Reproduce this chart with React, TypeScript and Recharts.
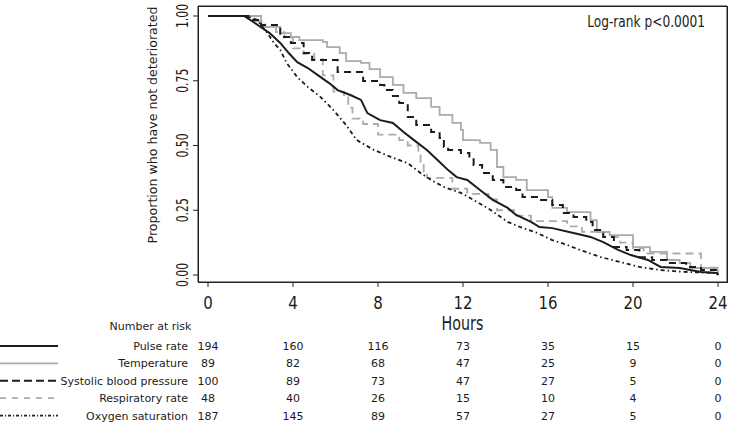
import { LineChart, Line, XAxis, YAxis, ReferenceLine } from 'recharts';

// Kaplan-Meier estimates: [hours, proportion not deteriorated]
const pulseRate = [
  [0, 1], [1.7, 1], [2.2, 0.973], [2.9, 0.934], [3.4, 0.896], [3.8, 0.857], [4.2, 0.822],
  [4.7, 0.799], [5.3, 0.764], [5.7, 0.741], [6.1, 0.714], [6.7, 0.695], [7.2, 0.676],
  [7.5, 0.625], [8.1, 0.598], [8.7, 0.587], [9.2, 0.552], [9.8, 0.514], [10.3, 0.483],
  [10.8, 0.444], [11.3, 0.405], [11.7, 0.378], [12.2, 0.367], [12.8, 0.328], [13.4, 0.29],
  [14.1, 0.259], [14.5, 0.232], [15.2, 0.205], [15.6, 0.185], [16.2, 0.181], [17.2, 0.162],
  [18, 0.147], [18.6, 0.127], [19.3, 0.097], [19.9, 0.077], [20.7, 0.058], [21.3, 0.031],
  [22.2, 0.027], [23.2, 0.012], [23.95, 0.008], [24, 0],
];
const temperature = [
  [0, 1], [2.5, 0.958], [3.4, 0.934], [3.9, 0.919], [4.3, 0.907], [5.4, 0.9], [5.6, 0.88],
  [6.2, 0.857], [6.5, 0.826], [7.2, 0.819], [7.6, 0.795], [8.1, 0.764], [8.7, 0.734],
  [9.2, 0.703], [9.8, 0.683], [10.5, 0.649], [10.9, 0.618], [11.5, 0.587], [11.9, 0.56],
  [12.0, 0.521], [12.8, 0.51], [13.3, 0.483], [13.6, 0.417], [13.9, 0.378], [14.5, 0.367],
  [15.0, 0.328], [16.0, 0.301], [16.2, 0.259], [16.9, 0.243], [18.0, 0.212], [18.3, 0.166],
  [18.9, 0.154], [20.0, 0.108], [20.8, 0.089], [21.6, 0.058], [22.2, 0.046], [22.7, 0.027],
  [23.95, 0.019], [24, 0],
];
const systolic = [
  [0, 1], [1.9, 0.985], [2.5, 0.965], [3.4, 0.919], [3.9, 0.896], [4.5, 0.857], [4.9, 0.83],
  [6.1, 0.784], [7.3, 0.749], [8.1, 0.734], [8.3, 0.714], [8.7, 0.691], [9.0, 0.664],
  [9.4, 0.61], [9.8, 0.579], [10.5, 0.552], [10.9, 0.529], [11.1, 0.494], [11.3, 0.483],
  [11.9, 0.471], [12.3, 0.452], [12.5, 0.425], [12.9, 0.394], [13.4, 0.367], [13.9, 0.34],
  [14.5, 0.328], [14.8, 0.301], [15.6, 0.29], [16.2, 0.27], [16.7, 0.239], [17.2, 0.224],
  [17.8, 0.205], [18.1, 0.174], [18.6, 0.147], [19.1, 0.108], [19.7, 0.097], [20.3, 0.069],
  [20.9, 0.058], [21.6, 0.046], [22.5, 0.031], [23.2, 0.019], [23.9, 0.012], [24, 0],
];
const respiratory = [
  [0, 1], [2.2, 0.979], [2.7, 0.958], [3.2, 0.938], [3.6, 0.917], [4.0, 0.875], [4.5, 0.854],
  [5.0, 0.833], [5.4, 0.771], [5.9, 0.708], [6.4, 0.688], [6.6, 0.646], [6.8, 0.604],
  [7.3, 0.583], [8.0, 0.542], [9.0, 0.521], [9.4, 0.5], [9.9, 0.479], [10.0, 0.438],
  [10.15, 0.396], [10.3, 0.375], [11.5, 0.333], [12.2, 0.313], [13.2, 0.292], [13.6, 0.25],
  [14.4, 0.229], [15.2, 0.208], [16.9, 0.188], [17.6, 0.167], [18.6, 0.146], [19.4, 0.125],
  [20.0, 0.104], [20.5, 0.083], [23.2, 0.028], [24, 0],
];
const oxygen = [
  [0, 1], [1.8, 1], [2.3, 0.985], [2.8, 0.934], [3.1, 0.896], [3.4, 0.869], [3.7, 0.819],
  [4.2, 0.764], [4.7, 0.726], [5.3, 0.687], [5.9, 0.637], [6.5, 0.579], [7.0, 0.521],
  [7.8, 0.483], [8.6, 0.456], [9.4, 0.432], [10.0, 0.394], [10.5, 0.367], [11.1, 0.34],
  [11.9, 0.317], [12.5, 0.29], [13.3, 0.251], [14.1, 0.205], [14.7, 0.185], [15.5, 0.162],
  [16.2, 0.135], [16.9, 0.116], [17.5, 0.097], [18.5, 0.069], [19.4, 0.05], [20.3, 0.031],
  [21.3, 0.019], [22.4, 0.012], [23.95, 0.008], [24, 0],
];

// number at risk table
const riskHours = [0, 4, 8, 12, 16, 20, 24];
const pulseRisk = [194, 160, 116, 73, 35, 15, 0];
const temperatureRisk = [89, 82, 68, 47, 25, 9, 0];
const systolicRisk = [100, 89, 73, 47, 27, 5, 0];
const respiratoryRisk = [48, 40, 26, 15, 10, 4, 0];
const oxygenRisk = [187, 145, 89, 57, 27, 5, 0];

const yTicks = [0, 0.25, 0.5, 0.75, 1];

const FONT = 'DejaVu Sans';
const INK = '#1c1c1c';
const GREY = '#ababab';

// axis ranges run a little past 0-24 h and 0-1 so the frame sits off the data (Stata style)
const X_DOMAIN = [-0.4706, 24.4235];
const Y_DOMAIN = [-0.027, 1.0386];

const toPoints = (pairs: number[][]) => pairs.map(([t, s]) => ({ t, s }));

// ids are prefixed so the stacked bottom axes come out in table order
const series = [
  { id: 'b_pulse', name: 'Pulse rate', data: pulseRate, risk: pulseRisk, stroke: INK, width: 2, dash: undefined, legendDash: undefined, curve: 'linear' },
  { id: 'c_temp', name: 'Temperature', data: temperature, risk: temperatureRisk, stroke: GREY, width: 1.8, dash: undefined, legendDash: undefined, curve: 'stepAfter' },
  { id: 'd_sbp', name: 'Systolic blood pressure', data: systolic, risk: systolicRisk, stroke: INK, width: 2, dash: '7 5', legendDash: '8 4', curve: 'stepAfter' },
  { id: 'e_resp', name: 'Respiratory rate', data: respiratory, risk: respiratoryRisk, stroke: GREY, width: 1.8, dash: '8 5', legendDash: '6 6', curve: 'stepAfter' },
  { id: 'f_oxy', name: 'Oxygen saturation', data: oxygen, risk: oxygenRisk, stroke: INK, width: 1.8, dash: '4 3 1.5 3', legendDash: '3 2 1 2', curve: 'linear' },
];

// draw order: grey lines underneath
const drawOrder = ['c_temp', 'e_resp', 'd_sbp', 'f_oxy', 'b_pulse'];

const HourTick = ({ x, y, payload }: any) => (
  <text
    transform={`translate(${x},${y + 20}) scale(1,1.2)`}
    textAnchor="middle"
    fontFamily={FONT}
    fontSize={15}
    fill={INK}
  >
    {payload.value}
  </text>
);

const PropTick = ({ x, y, payload }: any) => (
  <text
    transform={`translate(${x - 3},${y}) rotate(-90) scale(0.72,1)`}
    textAnchor="middle"
    fontFamily={FONT}
    fontSize={15}
    fill={INK}
  >
    {payload.value.toFixed(2)}
  </text>
);

const RiskTick = ({ x, y, payload, row }: any) => {
  const i = riskHours.indexOf(payload.value);
  return (
    <g>
      {payload.value === 0 && (
        <g>
          <line
            x1={0}
            x2={58}
            y1={y + 10}
            y2={y + 10}
            stroke={row.stroke}
            strokeWidth={row.width}
            strokeDasharray={row.legendDash}
          />
          <text x={x - 20} y={y + 14} textAnchor="end" fontFamily={FONT} fontSize={11} fill={INK}>
            {row.name}
          </text>
        </g>
      )}
      <text x={x} y={y + 14} textAnchor="middle" fontFamily={FONT} fontSize={11} fill={INK}>
        {row.risk[i]}
      </text>
    </g>
  );
};

const HoursLabel = ({ viewBox }: any) => (
  <g>
    <text
      transform={`translate(${viewBox.x + viewBox.width / 2},${viewBox.y + 47.5}) scale(1,1.3)`}
      textAnchor="middle"
      fontFamily={FONT}
      fontSize={14.3}
      fill={INK}
    >
      Hours
    </text>
    <text x={150.5} y={viewBox.y + 48} textAnchor="middle" fontFamily={FONT} fontSize={11} fill={INK}>
      Number at risk
    </text>
  </g>
);

const PropLabel = ({ viewBox }: any) => (
  <text
    transform={`translate(157,${viewBox.y + 119}) rotate(-90)`}
    textAnchor="middle"
    fontFamily={FONT}
    fontSize={12.6}
    fill={INK}
  >
    Proportion who have not deteriorated
  </text>
);

const LogRankLabel = ({ viewBox }: any) => (
  <text
    transform={`translate(${viewBox.x + viewBox.width - 22},${viewBox.y + 22}) scale(1,1.3)`}
    textAnchor="end"
    fontFamily={FONT}
    fontSize={12.2}
    fill={INK}
  >
    Log-rank p&lt;0.0001
  </text>
);

const axisStroke = { stroke: '#222', strokeWidth: 1 };

export default function App() {
  return (
    <div style={{ position: 'absolute', left: 0, top: 0, width: 729, height: 423, background: '#fff' }}>
      <LineChart width={729} height={423} margin={{ top: 5, right: 2, bottom: 0, left: 0 }}>
        <XAxis
          xAxisId="a_main"
          dataKey="t"
          type="number"
          domain={X_DOMAIN}
          allowDataOverflow
          ticks={riskHours}
          height={54}
          tickSize={5}
          tickLine={axisStroke}
          axisLine={axisStroke}
          tick={HourTick}
          label={{ content: HoursLabel }}
        />
        {series.map((row) => (
          <XAxis
            key={row.id}
            xAxisId={row.id}
            dataKey="t"
            type="number"
            domain={X_DOMAIN}
            allowDataOverflow
            ticks={riskHours}
            height={17.4}
            tickSize={0}
            tickMargin={0}
            tickLine={false}
            axisLine={false}
            tick={(p: any) => <RiskTick {...p} row={row} />}
          />
        ))}
        <XAxis
          xAxisId="top"
          orientation="top"
          dataKey="t"
          type="number"
          domain={X_DOMAIN}
          allowDataOverflow
          ticks={riskHours}
          height={1}
          tick={false}
          tickLine={false}
          axisLine={false}
          label={{ content: LogRankLabel }}
        />
        <YAxis
          type="number"
          domain={Y_DOMAIN}
          allowDataOverflow
          ticks={yTicks}
          width={198}
          tickSize={5}
          tickLine={axisStroke}
          axisLine={axisStroke}
          tick={PropTick}
          label={{ content: PropLabel }}
        />
        {drawOrder.map((id) => {
          const row = series.find((s) => s.id === id)!;
          return (
            <Line
              key={row.id}
              xAxisId="a_main"
              data={toPoints(row.data)}
              dataKey="s"
              type={row.curve as any}
              stroke={row.stroke}
              strokeWidth={row.width}
              strokeDasharray={row.dash}
              dot={false}
              activeDot={false}
              isAnimationActive={false}
            />
          );
        })}
        {/* top and right edges of the frame */}
        <ReferenceLine xAxisId="a_main" y={Y_DOMAIN[1]} stroke="#222" strokeWidth={1} ifOverflow="visible" />
        <ReferenceLine xAxisId="a_main" x={X_DOMAIN[1]} stroke="#222" strokeWidth={1} ifOverflow="visible" />
      </LineChart>
      {/* plain box over the plot area in case the edge lines are dropped */}
      <div
        style={{
          position: 'absolute',
          left: 198,
          top: 6,
          width: 530,
          height: 277,
          border: '1px solid #222',
          boxSizing: 'border-box',
          pointerEvents: 'none',
        }}
      />
    </div>
  );
}
